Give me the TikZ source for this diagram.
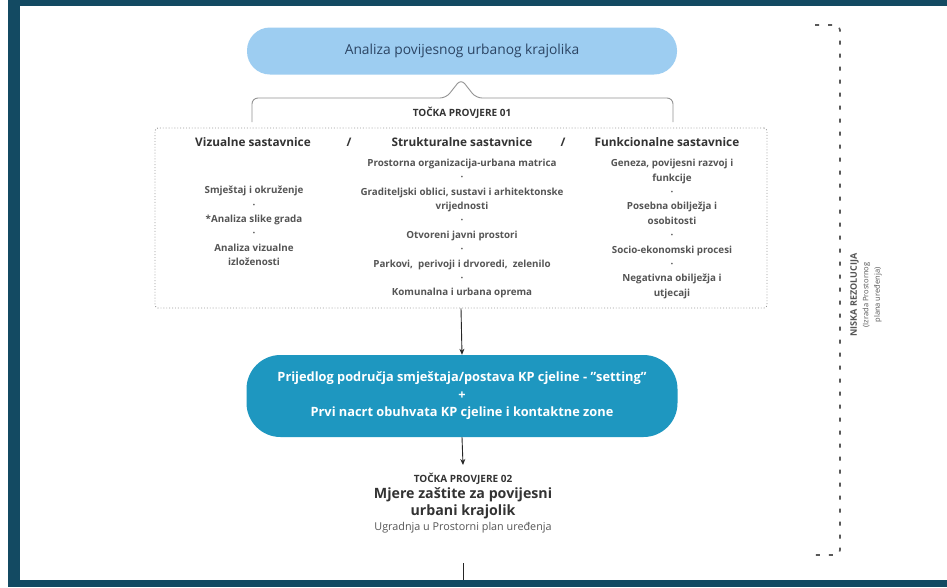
\documentclass[tikz,border=0pt]{standalone}
\usepackage{fontspec}
\setmainfont{Open Sans}
\usetikzlibrary{arrows.meta}
\definecolor{frameblue}{HTML}{134A62}
\definecolor{pillblue}{HTML}{9DCDF1}
\definecolor{pilltext}{HTML}{2B4463}
\definecolor{tealbox}{HTML}{1E97C0}
\definecolor{txtdark}{HTML}{333333}
\definecolor{txtgray}{HTML}{555555}
\tikzset{
  pill/.style={fill=pillblue, rounded corners=23pt, minimum width=430pt, minimum height=47pt, text=pilltext, font=\fontsize{13.8}{16}\selectfont},
  tealpill/.style={fill=tealbox, rounded corners=34pt, minimum width=431pt, minimum height=82pt, text=white, align=center, font=\bfseries\fontsize{12.8}{17.5}\selectfont},
  dotbox/.style={draw=gray!80, dotted, line width=0.9pt, rounded corners=3pt, minimum width=612pt, minimum height=180pt},
  heading/.style={text=txtdark, font=\bfseries\fontsize{11.8}{13}\selectfont, inner sep=1pt},
  colitems/.style={text=txtgray, align=center, font=\bfseries\fontsize{9.8}{14.4}\selectfont, inner sep=1pt},
  check/.style={text=txtdark, font=\bfseries\fontsize{10}{12}\selectfont, inner sep=1pt},
  conn/.style={draw=black!85, line width=0.9pt, -{Stealth[length=6pt,width=5pt]}},
  bracepath/.style={draw=gray!85, line width=0.9pt, rounded corners=6pt},
  dashbracket/.style={draw=gray!70!black, line width=1.6pt, dash pattern=on 4pt off 9pt},
}
\begin{document}
\begin{tikzpicture}[x=1pt,y=-1pt]
\useasboundingbox (0,0) rectangle (947,587);
\fill[white] (0,0) rectangle (947,587);

% top pill
\node[pill] (top) at (462,51) {Analiza povijesnog urbanog krajolika};

% brace
\coordinate (peak) at (461,79);
\draw[bracepath] (252,122) |- (446,98) -- (peak) -- (476,98) -| (673,122);
\node[check] (t1) at (462,113) {TOČKA PROVJERE 01};

% dotted box
\node[dotbox] (box) at (461,218) {};

% headings
\node[heading] (h1) at (253,142) {Vizualne sastavnice};
\node[heading] (s1) at (349,142) {/};
\node[heading] (h2) at (462,142) {Strukturalne sastavnice};
\node[heading] (s2) at (563,142) {/};
\node[heading] (h3) at (667,142) {Funkcionalne sastavnice};

% columns
\node[colitems] (c1) at (254,226) {Smještaj i okruženje\\·\\*Analiza slike grada\\·\\Analiza vizualne\\izloženosti};
\node[colitems] (c2) at (462,228.5) {Prostorna organizacija-urbana matrica\\·\\Graditeljski oblici, sustavi i arhitektonske\\vrijednosti\\·\\Otvoreni javni prostori\\·\\Parkovi,\ \ perivoji i drvoredi,\ \ zelenilo\\·\\Komunalna i urbana oprema};
\node[colitems] (c3) at (672,229) {Geneza, povijesni razvoj i\\funkcije\\·\\Posebna obilježja i\\osobitosti\\·\\Socio-ekonomski procesi\\·\\Negativna obilježja i\\utjecaji};

% teal box
\node[tealpill] (prop) at (462,396) {Prijedlog područja smještaja/postava KP cjeline - "setting"\\+\\Prvi nacrt obuhvata KP cjeline i kontaktne zone};
\draw[conn] (box.south) -- (prop.north);

% checkpoint 2
\node[check] (t2) at (463,479) {TOČKA PROVJERE 02};
\coordinate (t2top) at (463,465);
\draw[conn] (prop.south) -- (t2top);
\node[text=txtdark, align=center, font=\bfseries\fontsize{14.2}{17}\selectfont, inner sep=1pt] (mjere) at (463,503.5) {Mjere zaštite za povijesni\\urbani krajolik};
\node[text=txtgray, font=\fontsize{10.8}{12}\selectfont, inner sep=1pt] (ugr) at (463,528) {Ugradnja u Prostorni plan uređenja};
\coordinate (lineA) at (463,563);
\coordinate (lineB) at (463,582);
\draw[draw=black!85, line width=0.9pt] (lineA) -- (lineB);

% right dashed bracket
\draw[dashbracket] (815,25) -- (838,25) -- (840,30) -- (840,550) -- (838,555) -- (815,555);
\node[rotate=90, text=txtgray, align=center, font=\fontsize{7.5}{11.5}\selectfont, inner sep=1pt] (nr) at (866,295) {{\bfseries\fontsize{9}{11.5}\selectfont NISKA REZOLUCIJA}\\(Izrada Prostornog\\plana uređenja)};

% frame
\fill[frameblue] (8,0) rectangle (20,587);
\fill[frameblue] (8,0) rectangle (947,6);
\fill[frameblue] (8,580) rectangle (947,587);
\end{tikzpicture}
\end{document}
